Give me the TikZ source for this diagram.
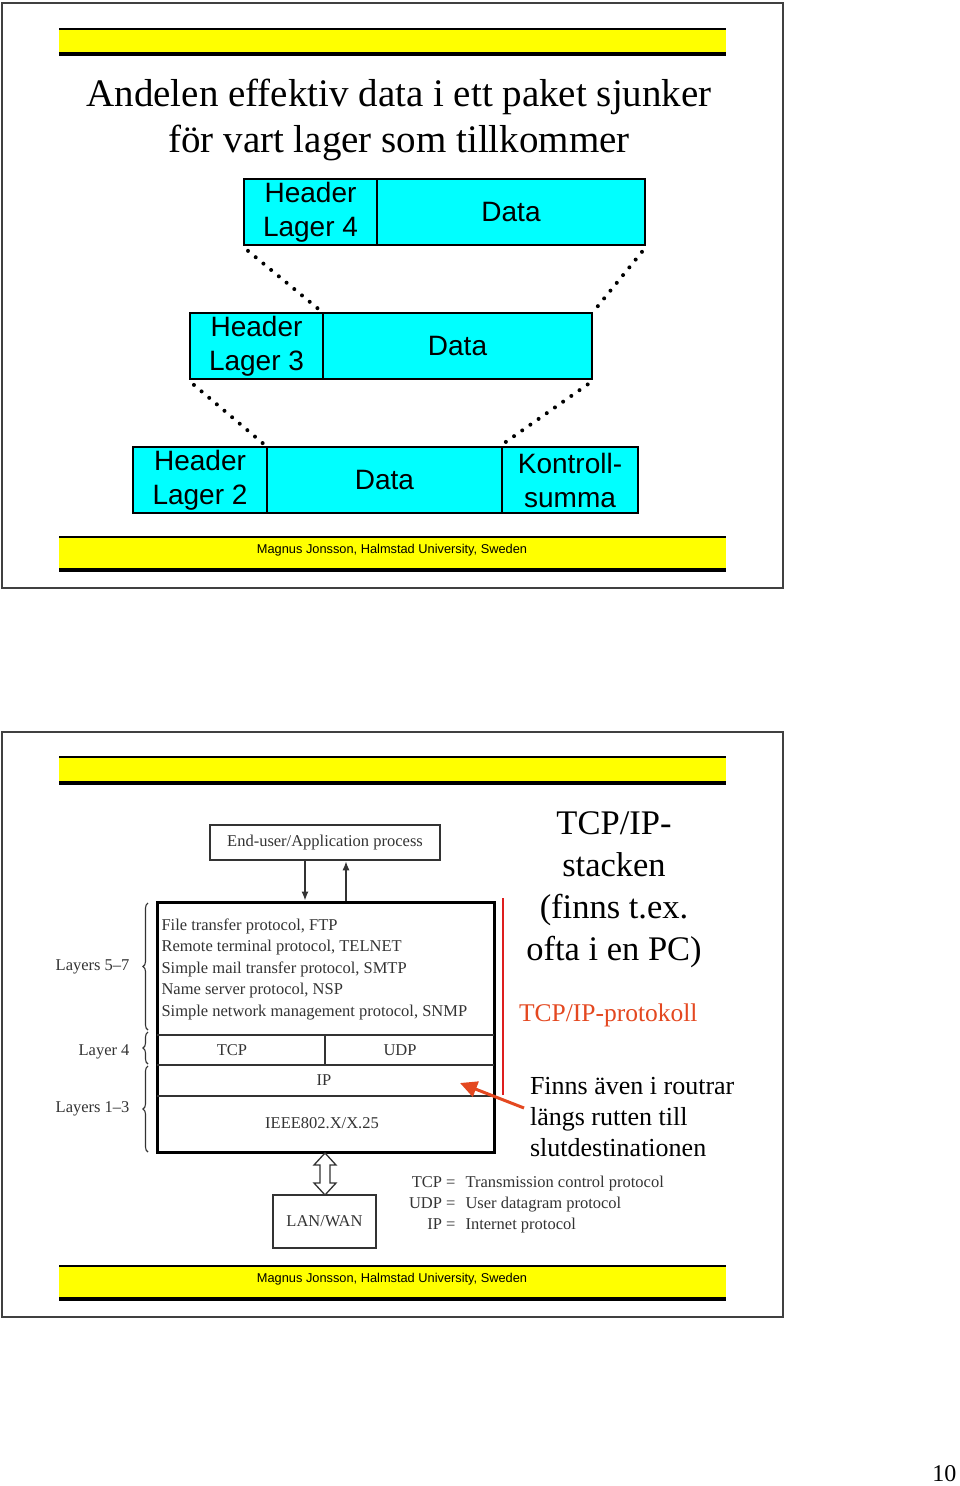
\documentclass[tikz,border=0pt]{standalone}
\usepackage{fontspec}
\setmainfont{Liberation Serif}
\newfontfamily\arialf{Liberation Sans}
\usetikzlibrary{arrows.meta,decorations.pathreplacing,calc}
\definecolor{scan}{gray}{0.2}
\definecolor{orred}{RGB}{228,72,32}
\definecolor{vred}{RGB}{222,30,30}
\definecolor{pcyan}{RGB}{0,255,255}
\definecolor{pyellow}{RGB}{255,255,0}
\tikzset{
  frame/.style={draw=black!75, line width=2pt},
  cell/.style={draw, line width=2.8pt, fill=pcyan, inner sep=0pt, align=center,
    font=\arialf\fontsize{28}{34}\selectfont},
  dotline/.style={line width=4pt, dash pattern=on 0pt off 10pt, line cap=round,
    shorten <=7pt, shorten >=2pt},
  title/.style={anchor=base, font=\fontsize{39}{47}\selectfont},
  foot/.style={font=\arialf\fontsize{12.8}{15}\selectfont},
  small/.style={text=scan, font=\fontsize{16.5}{20}\selectfont},
  big/.style={anchor=base, font=\fontsize{34.5}{42}\selectfont},
  mid/.style={anchor=base west, font=\fontsize{26}{31}\selectfont},
  sarrow/.style={line width=1.3pt, draw=scan, -{Latex[length=9pt,width=7pt]}},
  brc/.style={decorate, decoration={brace, amplitude=5pt}, line width=1.1pt, draw=scan},
}
\begin{document}
\begin{tikzpicture}[x=1pt,y=-1pt]
\useasboundingbox[fill=white] (0,0) rectangle (960,1486);

% slide frames
\draw[frame] (2,3) rectangle (783,588);
\draw[frame] (2,732) rectangle (783,1317);

% yellow bars
\foreach \t/\b in {29/54, 537/570, 757/783, 1266/1299}{
  \fill[pyellow] (59,\t) rectangle (726,\b);
  \draw[line width=1.5pt] (59,\t) -- (726,\t);
  \draw[line width=3.5pt] (59,\b) -- (726,\b);
}
\node[foot] (foot1) at (392,550) {Magnus Jonsson, Halmstad University, Sweden};
\node[foot] (foot2) at (392,1279) {Magnus Jonsson, Halmstad University, Sweden};

% ---------- slide 1 ----------
\node[title] (t1) at (399,106) {Andelen effektiv data i ett paket sjunker};
\node[title] (t2) at (399,152) {för vart lager som tillkommer};

\node[cell, minimum width=133pt, minimum height=66pt] (h4) at (310.5,212) {Header\\Lager 4};
\node[cell, minimum width=268pt, minimum height=66pt] (d4) at (511,212) {Data};
\node[cell, minimum width=133pt, minimum height=66pt] (h3) at (256.5,346) {Header\\Lager 3};
\node[cell, minimum width=269pt, minimum height=66pt] (d3) at (457.5,346) {Data};
\node[cell, minimum width=134pt, minimum height=66pt] (h2) at (200,480) {Header\\Lager 2};
\node[cell, minimum width=235pt, minimum height=66pt] (d2) at (384.5,480) {Data};
\node[cell, minimum width=136pt, minimum height=66pt] (k2) at (570,480) {Kontroll-\\summa};

\draw[dotline] (h4.south west) -- (d3.north west);
\draw[dotline] (d4.south east) -- (d3.north east);
\draw[dotline] (h3.south west) -- (d2.north west);
\draw[dotline] (d3.south east) -- (k2.north west);

% ---------- slide 2 ----------
\node[draw=scan, line width=2.5pt, minimum width=230pt, minimum height=35pt, small] (app) at (325,842.5) {End-user/Application process};
\node[draw, line width=3pt, minimum width=337pt, minimum height=250pt, inner sep=0pt] (stack) at (325.5,1027) {};

\draw[sarrow] ([xshift=-20pt]app.south) -- ([xshift=-20pt]app.south |- stack.north);
\draw[sarrow] ([xshift=21pt]app.south |- stack.north) -- ([xshift=21pt]app.south);

\draw[line width=1.5pt, draw=scan] (157,1035) -- (494,1035);
\draw[line width=1.5pt, draw=scan] (157,1065) -- (494,1065);
\draw[line width=1.5pt, draw=scan] (157,1096) -- (494,1096);
\draw[line width=1.5pt, draw=scan] (325,1035) -- (325,1065);

\node[small, anchor=base west] (p1) at (158,930) {File transfer protocol, FTP};
\node[small, anchor=base west] (p2) at (158,951) {Remote terminal protocol, TELNET};
\node[small, anchor=base west] (p3) at (158,973) {Simple mail transfer protocol, SMTP};
\node[small, anchor=base west] (p4) at (158,994) {Name server protocol, NSP};
\node[small, anchor=base west] (p5) at (158,1016) {Simple network management protocol, SNMP};
\node[small, anchor=base] (tcp) at (232,1055) {TCP};
\node[small, anchor=base] (udp) at (400,1055) {UDP};
\node[small, anchor=base] (ip) at (324,1085) {IP};
\node[small, anchor=base] (ieee) at (322,1128) {IEEE802.X/X.25};

\node[small, anchor=base east] (l57) at (133,970) {Layers 5–7};
\node[small, anchor=base east] (l4) at (133,1055) {Layer 4};
\node[small, anchor=base east] (l13) at (133,1112) {Layers 1–3};
\draw[brc] (148,1030) -- (148,903);
\draw[brc] (148,1064) -- (148,1032);
\draw[brc] (148,1152) -- (148,1066);

% double hollow arrow
\draw[line width=1.3pt, draw=scan, fill=white] (325,1153) -- ++(11,12) -- ++(-6,0) -- ++(0,18) -- ++(6,0) -- (325,1195) -- ++(-11,-12) -- ++(6,0) -- ++(0,-18) -- ++(-6,0) -- cycle;
\node[draw=scan, line width=2.8pt, minimum width=103pt, minimum height=53pt, small] (lan) at (324.5,1221.5) {LAN/WAN};

% legend
\node[small, anchor=base east] (k1) at (459,1187) {TCP =};
\node[small, anchor=base east] (k2l) at (459,1208) {UDP =};
\node[small, anchor=base east] (k3) at (459,1229) {IP =};
\node[small, anchor=base west] (v1) at (462,1187) {Transmission control protocol};
\node[small, anchor=base west] (v2) at (462,1208) {User datagram protocol};
\node[small, anchor=base west] (v3) at (462,1229) {Internet protocol};

% right side texts
\node[big] (r1) at (614,834) {TCP/IP-};
\node[big] (r2) at (614,876) {stacken};
\node[big] (r3) at (614,918) {(finns t.ex.};
\node[big] (r4) at (614,960) {ofta i en PC)};
\node[anchor=base west, text=orred, font=\fontsize{25.5}{30}\selectfont] (proto) at (515.5,1021) {TCP/IP-protokoll};
\node[mid] (f1) at (526.5,1094) {Finns även i routrar};
\node[mid] (f2) at (526.5,1125) {längs rutten till};
\node[mid] (f3) at (526.5,1156) {slutdestinationen};

\draw[vred, line width=2.2pt] (503,898) -- (503,1095);
\coordinate (rtail) at (524,1108);
\coordinate (rtip) at (460,1083);
\draw[orred, line width=3pt, -{Triangle[length=17pt,width=16pt]}] (rtail) -- (rtip);

% page number
\node[anchor=base east, font=\fontsize{24}{28}\selectfont] (pg) at (960,1481) {10};
\end{tikzpicture}
\end{document}
